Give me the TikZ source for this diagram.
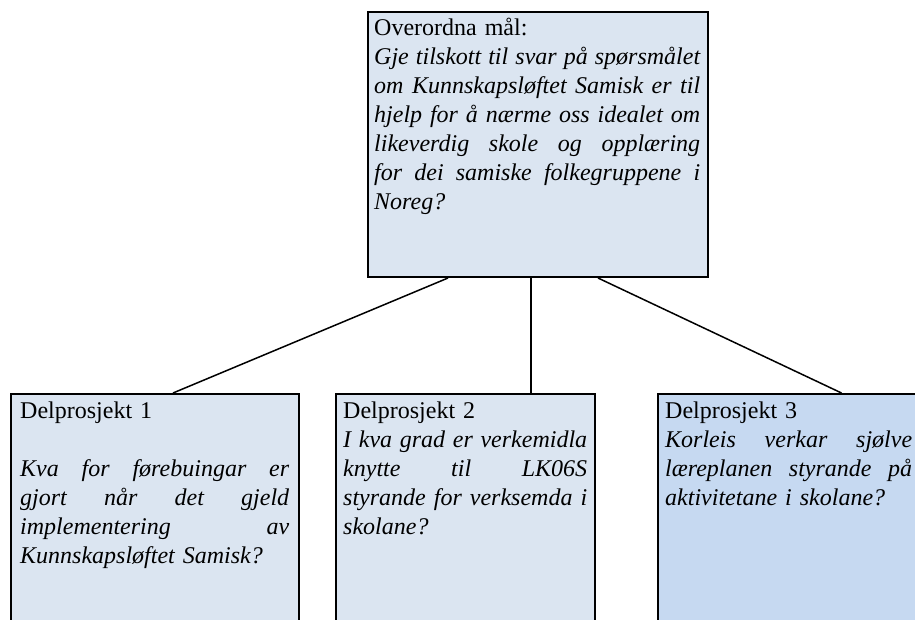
\documentclass[tikz,border=0pt]{standalone}
\usepackage{fontspec}
\setmainfont{Liberation Serif}
\definecolor{boxfill}{HTML}{DBE5F1}
\definecolor{boxfillb}{HTML}{C6D9F1}
\tikzset{
  frame/.style={draw=black, line width=2pt, inner sep=0pt, anchor=north west},
  txt/.style={inner sep=0pt, anchor=north west, align=left, font=\fontsize{24}{29}\selectfont},
  link/.style={draw=black, line width=1.5pt},
}
\newcommand\jl[2]{\makebox[#1][s]{\spaceskip=0pt\xspaceskip=0pt\relax #2}}
\begin{document}
\begin{tikzpicture}[x=1pt,y=-1pt]
\useasboundingbox (0,0) rectangle (915,619);
\clip (0,0) rectangle (915,619);
% boxes
\node[frame, fill=boxfill, minimum width=340pt, minimum height=265pt] (top) at (367,11) {};
\node[frame, fill=boxfill, minimum width=288pt, minimum height=260pt] (d1) at (10,393) {};
\node[frame, fill=boxfill, minimum width=259pt, minimum height=260pt] (d2) at (335,393) {};
\node[frame, fill=boxfillb, minimum width=275pt, minimum height=260pt] (d3) at (657,393) {};
% texts
\node[txt, text width=326pt] (toptext) at (374,14.7) {\strut Overordna mål:\\
\itshape\jl{326pt}{Gje tilskott til svar på spørsmålet}\\
\itshape\jl{326pt}{om Kunnskapsløftet Samisk er til}\\
\itshape\jl{326pt}{hjelp for å nærme oss idealet om}\\
\itshape\jl{326pt}{likeverdig skole og opplæring}\\
\itshape\jl{326pt}{for dei samiske folkegruppene i}\\
\itshape Noreg?};
\node[txt, text width=269pt] (d1text) at (20,397.7) {\strut Delprosjekt 1\\[29pt]
\itshape\jl{269pt}{Kva for førebuingar er}\\
\itshape\jl{269pt}{gjort når det gjeld}\\
\itshape\jl{269pt}{implementering av}\\
\itshape Kunnskapsløftet Samisk?};
\node[txt, text width=244pt] (d2text) at (343,397.7) {\strut Delprosjekt 2\\
\itshape\jl{244pt}{I kva grad er verkemidla}\\
\itshape\jl{244pt}{knytte til LK06S}\\
\itshape\jl{244pt}{styrande for verksemda i}\\
\itshape skolane?};
\node[txt, text width=247pt] (d3text) at (665,397.7) {\strut Delprosjekt 3\\
\itshape\jl{247pt}{Korleis verkar sjølve}\\
\itshape\jl{247pt}{læreplanen styrande på}\\
\itshape aktivitetane i skolane?};
% connectors
\draw[link] ([xshift=-90pt]top.south) -- ([xshift=18pt]d1.north);
\draw[link] ([xshift=-7pt]top.south) -- ([xshift=65.5pt]d2.north);
\draw[link] ([xshift=60pt]top.south) -- ([xshift=46pt]d3.north);
\end{tikzpicture}
\end{document}
